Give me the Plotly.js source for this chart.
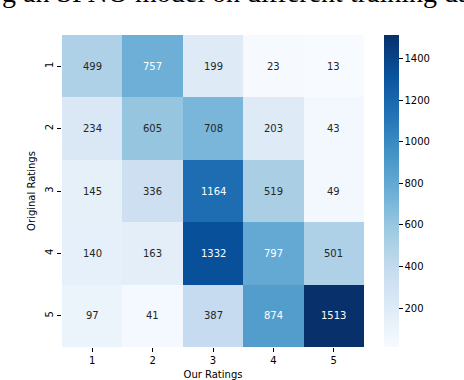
<!DOCTYPE html>
<html>
<head>
<meta charset="utf-8">
<script src="https://cdn.plot.ly/plotly-3.0.1.min.js"></script>
<style>
  html, body { margin: 0; padding: 0; background: #fff; }
  #plot { width: 464px; height: 380px; }
</style>
</head>
<body>
<div id="plot"></div>
<script>
// Confusion matrix: rows = original ratings, columns = our ratings
const ourRatings = ['1', '2', '3', '4', '5'];
const originalRatings = ['1', '2', '3', '4', '5'];
const counts = [
    [499, 757, 199, 23, 13],
    [234, 605, 708, 203, 43],
    [145, 336, 1164, 519, 49],
    [140, 163, 1332, 797, 501],
    [97, 41, 387, 874, 1513]
];
const cbTicks = [200, 400, 600, 800, 1000, 1200, 1400];

// matplotlib "Blues"
const blues = [
    [0.0, '#f7fbff'], [0.125, '#deebf7'], [0.25, '#c6dbef'],
    [0.375, '#9ecae1'], [0.5, '#6baed6'], [0.625, '#4292c6'],
    [0.75, '#2171b5'], [0.875, '#08519c'], [1.0, '#08306b']
];

const font = 'DejaVu Sans, sans-serif';

const allVals = counts.flat();
const zmin = Math.min(...allVals);
const zmax = Math.max(...allVals);

// Cell labels, white on dark cells (positions are category indices)
const annotations = [];
counts.forEach((row, i) => {
    row.forEach((v, j) => {
        annotations.push({
            x: j,
            y: i,
            text: String(v),
            showarrow: false,
            font: { family: font, size: 10, color: v > 730 ? '#ffffff' : '#262626' }
        });
    });
});

// Cropped caption line at the very top
annotations.push({
    xref: 'paper', yref: 'paper',
    x: -0.205, y: 1.081,
    xanchor: 'left', yanchor: 'bottom',
    text: 'g an SPNO model on different training da',
    showarrow: false,
    font: { family: 'Liberation Serif, serif', size: 28, color: '#000' }
});

const trace = {
    type: 'heatmap',
    x: ourRatings,
    y: originalRatings,
    z: counts,
    zmin: zmin,
    zmax: zmax,
    colorscale: blues,
    xgap: 0,
    ygap: 0,
    hoverinfo: 'none',
    colorbar: {
        thickness: 15,
        thicknessmode: 'pixels',
        len: 332,
        lenmode: 'pixels',
        x: 1.033,
        xanchor: 'left',
        y: 0.5,
        yanchor: 'middle',
        outlinewidth: 0,
        tickvals: cbTicks,
        ticks: 'outside',
        ticklen: 4,
        tickwidth: 1,
        tickcolor: '#000',
        tickfont: { family: font, size: 10, color: '#000' }
    }
};

const layout = {
    width: 464,
    height: 380,
    margin: { l: 62, r: 100, t: 35, b: 33 },
    paper_bgcolor: '#fff',
    plot_bgcolor: '#fff',
    font: { family: font, size: 10, color: '#000' },
    xaxis: {
        type: 'category',
        range: [-0.5, 4.5],
        autorange: false,
        title: { text: 'Our Ratings', font: { family: font, size: 10 }, standoff: 6 },
        ticks: 'outside',
        ticklen: 4,
        tickcolor: '#000',
        tickfont: { family: font, size: 10 },
        showgrid: false,
        zeroline: false,
        showline: false
    },
    yaxis: {
        type: 'category',
        range: [4.5, -0.5],
        autorange: false,
        title: { text: 'Original Ratings', font: { family: font, size: 10 }, standoff: 6 },
        ticks: 'outside',
        ticklen: 4,
        tickcolor: '#000',
        tickangle: -90,
        tickfont: { family: font, size: 10 },
        showgrid: false,
        zeroline: false,
        showline: false
    },
    annotations: annotations
};

Plotly.newPlot('plot', [trace], layout, { displayModeBar: false, staticPlot: true });
</script>
</body>
</html>
